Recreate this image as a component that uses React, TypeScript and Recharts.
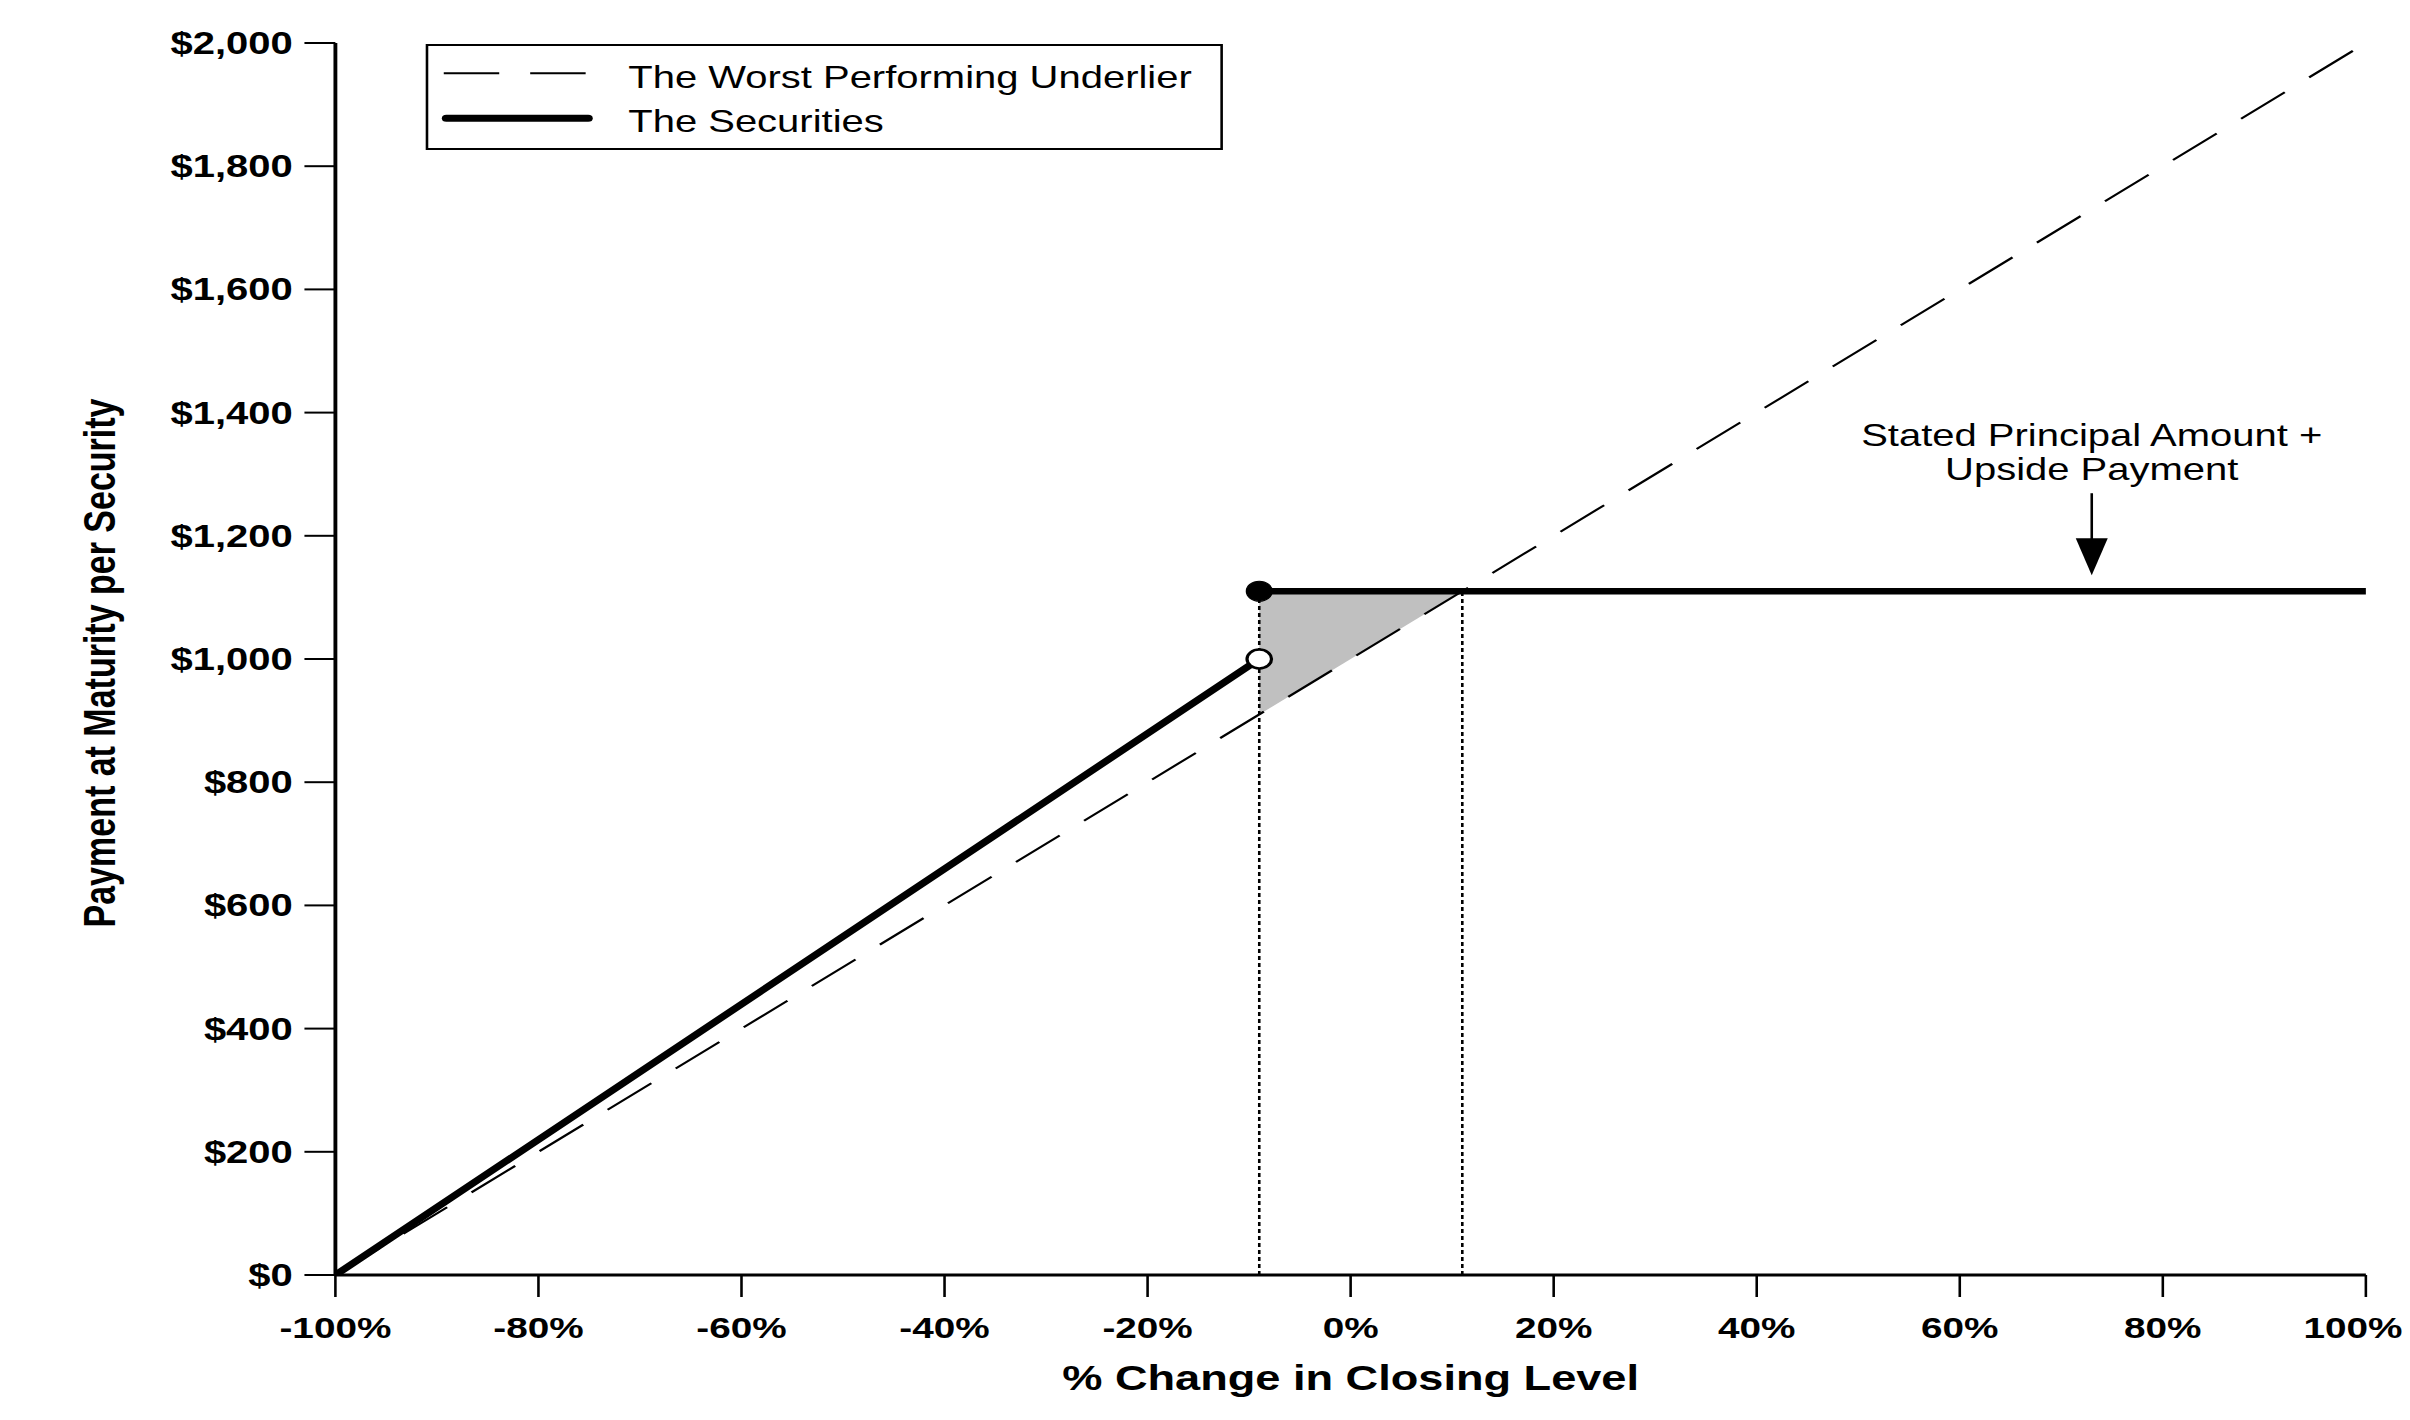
import React from "react";
import {
  ComposedChart,
  Line,
  Area,
  XAxis,
  YAxis,
  ReferenceLine,
  ReferenceDot,
  Legend,
} from "recharts";

// ---- data ----
const X_TICKS = [-100, -80, -60, -40, -20, 0, 20, 40, 60, 80, 100];
const Y_TICKS = [0, 200, 400, 600, 800, 1000, 1200, 1400, 1600, 1800, 2000];

const UNDERLIER_X = [-100, 100];
const UNDERLIER_Y = [0, 2000];

const SEC_LOWER_X = [-100, -9];
const SEC_LOWER_Y = [0, 1000];

const SEC_UPPER_X = [-9, 100];
const SEC_UPPER_Y = [1110, 1110];

const BAND_X = [-9, 11];
const BAND_LOW = [910, 1110];
const BAND_HIGH = [1110, 1110];

const THRESHOLD = -9;
const CAP_BREAK = 11;
const CAP_LEVEL = 1110;
const PRINCIPAL = 1000;

const ANNOT_X = 73;
const ANNOT_TIP = 1136;
const ANNOT_LINES = ["Stated Principal Amount +", "Upside Payment"];

const SERIES_NAMES = ["The Worst Performing Underlier", "The Securities"];
const X_TITLE = "% Change in Closing Level";
const Y_TITLE = "Payment at Maturity per Security";

const zip = (xs: number[], ys: number[]) => xs.map((x, i) => ({ x, y: ys[i] }));
const underlierData = zip(UNDERLIER_X, UNDERLIER_Y);
const secLowerData = zip(SEC_LOWER_X, SEC_LOWER_Y);
const secUpperData = zip(SEC_UPPER_X, SEC_UPPER_Y);
const bandData = BAND_X.map((x, i) => ({ x, range: [BAND_LOW[i], BAND_HIGH[i]] }));

// ---- layout ----
const S = 1.29; // horizontal stretch of the reference
const W = 1868;
const H = 1420;
const FONT = '"Liberation Sans", Arial, Helvetica, sans-serif';

const fmtDollar = (v: number) =>
  "$" + String(v).replace(/\B(?=(\d{3})+(?!\d))/g, ",");
const fmtPct = (v: number) => `${v}%`;

const XTick = (p: any) => {
  const v = p.payload.value;
  const last = v === X_TICKS[X_TICKS.length - 1];
  return (
    <text
      x={p.x}
      y={p.y}
      dx={last ? -10 : 0}
      dy="0.71em"
      textAnchor="middle"
      fontSize={30}
      fontWeight={700}
      fill="#000"
      fontFamily={FONT}
    >
      {fmtPct(v)}
    </text>
  );
};

const LegendBox = () => (
  <div
    style={{
      width: 618,
      height: 106,
      border: "2px solid #000",
      boxSizing: "border-box",
      background: "#fff",
    }}
  >
    <svg width={614} height={102} style={{ display: "block" }}>
      <line x1={12} x2={126} y1={27.3} y2={27.3} stroke="#000" strokeWidth={2} strokeDasharray="43 24" />
      <text x={155} y={42.3} fontSize={31} fill="#000" fontFamily={FONT}>
        {SERIES_NAMES[0]}
      </text>
      <line x1={14} x2={124} y1={72.3} y2={72.3} stroke="#000" strokeWidth={7} strokeLinecap="round" />
      <text x={155} y={85.7} fontSize={31} fill="#000" fontFamily={FONT}>
        {SERIES_NAMES[1]}
      </text>
    </svg>
  </div>
);

const AnnotationShape = (p: any) => {
  const cx = p.cx;
  const cy = p.cy;
  return (
    <g>
      <text x={cx} y={cy - 129} textAnchor="middle" fontSize={31} fill="#000" fontFamily={FONT}>
        {ANNOT_LINES[0]}
      </text>
      <text x={cx} y={cy - 95} textAnchor="middle" fontSize={31} fill="#000" fontFamily={FONT}>
        {ANNOT_LINES[1]}
      </text>
      <line x1={cx} x2={cx} y1={cy - 82} y2={cy - 36} stroke="#000" strokeWidth={2} />
      <polygon points={`${cx - 12.4},${cy - 37} ${cx + 12.4},${cy - 37} ${cx},${cy}`} fill="#000" />
    </g>
  );
};

const YTitle = (props: any) => {
  const vb = props.viewBox || { x: 0, y: 43, width: 260, height: 1232 };
  const x = vb.x + 89;
  const y = vb.y + vb.height / 2 + 4;
  return (
    <text
      x={x}
      y={y}
      transform={`rotate(-90, ${x}, ${y})`}
      textAnchor="middle"
      fontSize={34}
      fontWeight={700}
      fill="#000"
      fontFamily={FONT}
    >
      {Y_TITLE}
    </text>
  );
};

const XTitle = (props: any) => {
  const vb = props.viewBox || { x: 260, y: 1275, width: 1574, height: 145 };
  return (
    <text
      x={vb.x + vb.width / 2}
      y={vb.y + 115}
      textAnchor="middle"
      fontSize={35}
      fontWeight={700}
      fill="#000"
      fontFamily={FONT}
    >
      {X_TITLE}
    </text>
  );
};

export default function App() {
  return (
    <div
      style={{
        position: "absolute",
        left: 0,
        top: 0,
        width: 2410,
        height: 1420,
        overflow: "hidden",
        background: "#fff",
      }}
    >
      <div
        style={{
          width: W,
          height: H,
          transform: `scale(${S}, 1)`,
          transformOrigin: "0 0",
          fontFamily: FONT,
        }}
      >
        <ComposedChart width={W} height={H} margin={{ top: 43, right: 34, bottom: 0, left: 0 }}>
          <XAxis
            dataKey="x"
            type="number"
            domain={[-100, 100]}
            ticks={X_TICKS}
            allowDataOverflow
            height={145}
            tickSize={22}
            tickMargin={20}
            tick={<XTick />}
            tickLine={{ stroke: "#000", strokeWidth: 2 }}
            axisLine={{ stroke: "#000", strokeWidth: 3 }}
            label={<XTitle />}
          />
          <YAxis
            type="number"
            domain={[0, 2000]}
            ticks={Y_TICKS}
            tickFormatter={fmtDollar}
            allowDataOverflow
            width={260}
            tickSize={24}
            tickMargin={9}
            tick={{ fill: "#000", fontSize: 31, fontWeight: 700 }}
            tickLine={{ stroke: "#000", strokeWidth: 2 }}
            axisLine={{ stroke: "#000", strokeWidth: 3 }}
            label={<YTitle />}
          />
          <Area
            data={bandData}
            dataKey="range"
            type="linear"
            fill="#c0c0c0"
            fillOpacity={1}
            stroke="none"
            legendType="none"
            isAnimationActive={false}
          />
          <ReferenceLine
            segment={[
              { x: THRESHOLD, y: 0 },
              { x: THRESHOLD, y: CAP_LEVEL },
            ]}
            stroke="#000"
            strokeWidth={2}
            strokeDasharray="4 3"
          />
          <ReferenceLine
            segment={[
              { x: CAP_BREAK, y: 0 },
              { x: CAP_BREAK, y: CAP_LEVEL },
            ]}
            stroke="#000"
            strokeWidth={2}
            strokeDasharray="4 3"
          />
          <Line
            data={underlierData}
            dataKey="y"
            name={SERIES_NAMES[0]}
            type="linear"
            stroke="#000"
            strokeWidth={2}
            strokeDasharray="43 24"
            dot={false}
            activeDot={false}
            isAnimationActive={false}
          />
          <Line
            data={secLowerData}
            dataKey="y"
            name={SERIES_NAMES[1]}
            type="linear"
            stroke="#000"
            strokeWidth={6.5}
            strokeLinecap="round"
            dot={false}
            activeDot={false}
            isAnimationActive={false}
          />
          <Line
            data={secUpperData}
            dataKey="y"
            name={SERIES_NAMES[1] + " "}
            legendType="none"
            type="linear"
            stroke="#000"
            strokeWidth={6.5}
            strokeLinecap="round"
            dot={false}
            activeDot={false}
            isAnimationActive={false}
          />
          <ReferenceDot x={THRESHOLD} y={PRINCIPAL} r={9.5} fill="#fff" stroke="#000" strokeWidth={2.5} />
          <ReferenceDot x={THRESHOLD} y={CAP_LEVEL} r={10} fill="#000" stroke="#000" strokeWidth={1} />
          <ReferenceDot x={ANNOT_X} y={ANNOT_TIP} r={1} shape={AnnotationShape} />
          <Legend
            layout="vertical"
            align="center"
            verticalAlign="middle"
            content={() => <LegendBox />}
            wrapperStyle={{ left: 329.5, top: 44, width: 618, height: 106, margin: 0, padding: 0 }}
          />
        </ComposedChart>
      </div>
    </div>
  );
}
